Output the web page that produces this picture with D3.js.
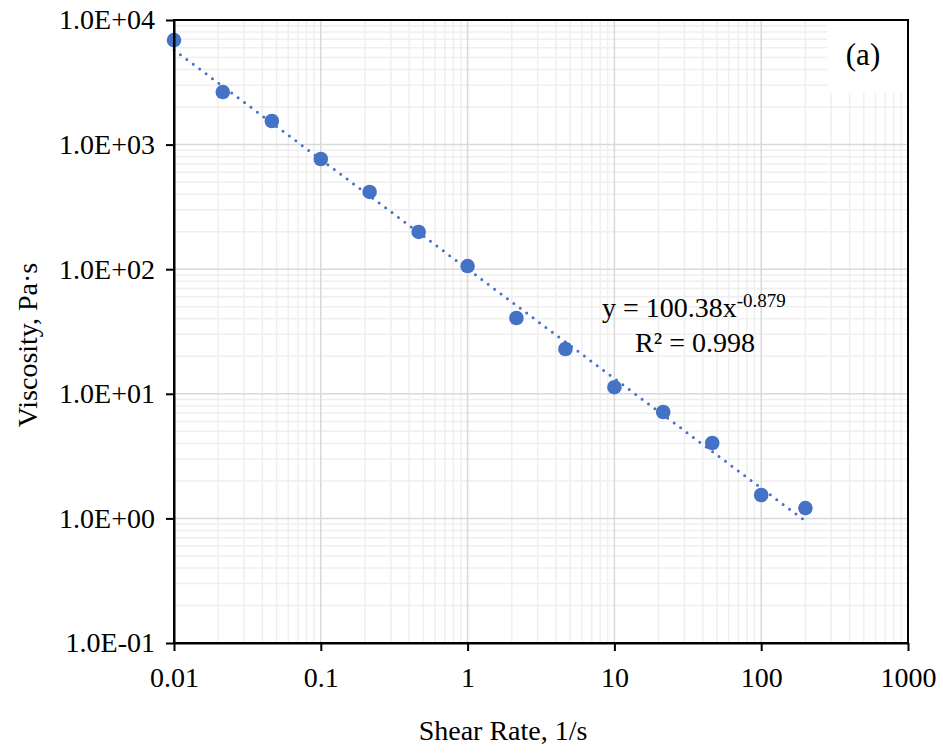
<!DOCTYPE html>
<html>
<head>
<meta charset="utf-8">
<script src="https://cdn.jsdelivr.net/npm/d3@7"></script>
<style>
  body { margin: 0; background: #fff; }
  text { font-family: "Liberation Serif", "Times New Roman", serif; fill: #000; }
</style>
</head>
<body>
<div class="canvas"></div>
<script>
// data
const shearRate = [0.01, 0.0215, 0.0464, 0.1, 0.215, 0.464, 1, 2.15, 4.64, 10, 21.5, 46.4, 100, 200];
const viscosity = [6900, 2640, 1546, 766, 417, 199, 106, 40.6, 22.9, 11.3, 7.14, 4.03, 1.54, 1.21];
const xTickValues = [0.01, 0.1, 1, 10, 100, 1000];
const xTickLabels = ['0.01', '0.1', '1', '10', '100', '1000'];
const yTickValues = [0.1, 1, 10, 100, 1000, 10000];
const yTickLabels = ['1.0E-01', '1.0E+00', '1.0E+01', '1.0E+02', '1.0E+03', '1.0E+04'];
// power trendline from the chart: y = 100.38 x^-0.879
const trendA = 100.38;
const trendB = -0.879;
const trendRange = [0.01, 200];

const width = 943, height = 753;
const margin = {top: 20, right: 35, bottom: 110, left: 174};
const graphWidth = width - margin.left - margin.right;
const graphHeight = height - margin.top - margin.bottom;

const svg = d3.select('.canvas')
    .append('svg')
    .attr('width', width)
    .attr('height', height);

const graph = svg.append('g')
    .attr('transform', `translate(${margin.left},${margin.top})`);

const x = d3.scaleLog().domain([0.01, 1000]).range([0, graphWidth]);
const y = d3.scaleLog().domain([0.1, 10000]).range([graphHeight, 0]);

// minor gridlines = log ticks that are not whole decades
const isDecade = v => Math.abs(Math.log10(v) - Math.round(Math.log10(v))) < 1e-6;
const xMinor = x.ticks().filter(v => !isDecade(v));
const yMinor = y.ticks().filter(v => !isDecade(v));

const grid = graph.append('g');
grid.selectAll('.xminor').data(xMinor).enter().append('line')
    .attr('x1', d => x(d)).attr('x2', d => x(d))
    .attr('y1', 0).attr('y2', graphHeight)
    .attr('stroke', '#efefef').attr('stroke-width', 1.5);
grid.selectAll('.yminor').data(yMinor).enter().append('line')
    .attr('x1', 0).attr('x2', graphWidth)
    .attr('y1', d => y(d)).attr('y2', d => y(d))
    .attr('stroke', '#efefef').attr('stroke-width', 1.5);
grid.selectAll('.xmajor').data(xTickValues).enter().append('line')
    .attr('x1', d => x(d)).attr('x2', d => x(d))
    .attr('y1', 0).attr('y2', graphHeight)
    .attr('stroke', '#d9d9d9').attr('stroke-width', 1.5);
grid.selectAll('.ymajor').data(yTickValues).enter().append('line')
    .attr('x1', 0).attr('x2', graphWidth)
    .attr('y1', d => y(d)).attr('y2', d => y(d))
    .attr('stroke', '#d9d9d9').attr('stroke-width', 1.5);

// white box behind the panel label
graph.append('rect')
    .attr('x', graphWidth - 81).attr('y', 0)
    .attr('width', 81).attr('height', 73)
    .attr('fill', '#fff');

// trendline (dotted)
const trendData = d3.range(0, 101).map(i => {
    const lx = Math.log10(trendRange[0]) + i / 100 * (Math.log10(trendRange[1]) - Math.log10(trendRange[0]));
    const xv = Math.pow(10, lx);
    return [xv, trendA * Math.pow(xv, trendB)];
});
graph.append('path')
    .datum(trendData)
    .attr('d', d3.line().x(d => x(d[0])).y(d => y(d[1])))
    .attr('fill', 'none')
    .attr('stroke', '#4472c4')
    .attr('stroke-width', 3)
    .attr('stroke-linecap', 'round')
    .attr('stroke-dasharray', '0 8');

// points
graph.selectAll('circle')
    .data(shearRate.map((d, i) => ({x: d, y: viscosity[i]})))
    .enter().append('circle')
    .attr('cx', d => x(d.x))
    .attr('cy', d => y(d.y))
    .attr('r', 7.3)
    .attr('fill', '#4472c4');

// frame
graph.append('rect')
    .attr('width', graphWidth).attr('height', graphHeight)
    .attr('fill', 'none').attr('stroke', '#000').attr('stroke-width', 2);

// axes
const xAxis = d3.axisBottom(x)
    .tickValues(xTickValues)
    .tickFormat((d, i) => xTickLabels[i])
    .tickSize(8).tickSizeOuter(0).tickPadding(16);
const yAxis = d3.axisLeft(y)
    .tickValues(yTickValues)
    .tickFormat((d, i) => yTickLabels[i])
    .tickSize(8).tickSizeOuter(0).tickPadding(11);

const xAxisGroup = graph.append('g')
    .attr('transform', `translate(0,${graphHeight})`)
    .call(xAxis);
const yAxisGroup = graph.append('g').call(yAxis);

[xAxisGroup, yAxisGroup].forEach(g => {
    g.select('.domain').attr('stroke', '#000').attr('stroke-width', 2);
    g.selectAll('.tick line').attr('stroke', '#000').attr('stroke-width', 2);
    g.selectAll('.tick text')
        .attr('font-family', '"Liberation Serif", serif')
        .attr('font-size', 28)
        .attr('fill', '#000');
});

// axis titles
svg.append('text')
    .attr('x', 503).attr('y', 740)
    .attr('text-anchor', 'middle')
    .attr('font-size', 28)
    .text('Shear Rate, 1/s');

svg.append('text')
    .attr('transform', 'translate(37,345) rotate(-90)')
    .attr('text-anchor', 'middle')
    .attr('font-size', 28)
    .text('Viscosity, Pa·s');

// equation
const eq = svg.append('text')
    .attr('x', 602).attr('y', 317)
    .attr('font-size', 28);
eq.append('tspan').text('y = 100.38x');
eq.append('tspan').attr('font-size', 19).attr('dy', -10).text('-0.879');

svg.append('text')
    .attr('x', 695).attr('y', 352)
    .attr('text-anchor', 'middle')
    .attr('font-size', 28)
    .text('R² = 0.998');

// panel label
svg.append('text')
    .attr('x', 863).attr('y', 65)
    .attr('text-anchor', 'middle')
    .attr('font-size', 31)
    .text('(a)');
</script>
</body>
</html>
